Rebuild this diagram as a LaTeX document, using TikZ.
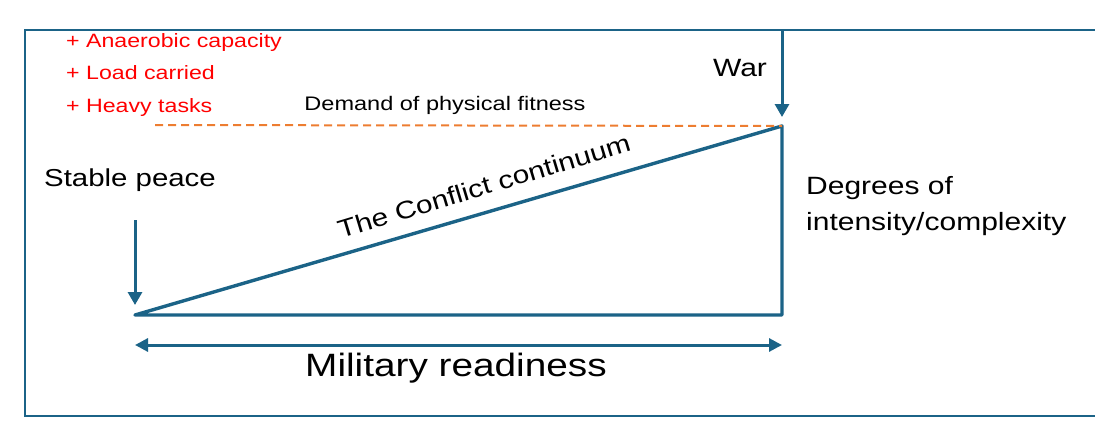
\documentclass[tikz,border=0pt]{standalone}
\usepackage{fontspec}
\setmainfont{Liberation Sans}[FakeStretch=1.2]
\usetikzlibrary{arrows.meta}
\definecolor{tealb}{HTML}{1B6387}
\definecolor{orng}{HTML}{ED7D31}
\definecolor{redt}{HTML}{FF0000}
\begin{document}
\begin{tikzpicture}[x=1pt,y=-1pt,
  frame/.style={draw=tealb,line width=1.3pt},
  tri/.style={draw=tealb,line width=3.4pt,line join=round},
  arr/.style={draw=tealb,line width=3pt,-{Triangle[length=13pt,width=14pt]}},
  darr/.style={draw=tealb,line width=3pt,{Triangle[length=13pt,width=13pt]}-{Triangle[length=13pt,width=13pt]}},
  lbl/.style={inner sep=0pt,font=\fontsize{24.5}{28}\selectfont},
  redlbl/.style={inner sep=0pt,anchor=west,text=redt,font=\fontsize{19.3}{22}\selectfont}]
\useasboundingbox (0,0) rectangle (1095,439);
\draw[frame] (1095,30) -- (25,30) -- (25,416) -- (1095,416);
% triangle
\coordinate (A) at (135,315);
\coordinate (B) at (782,126);
\coordinate (C) at (782,315);
\draw[tri] (A) -- (B) -- (C) -- cycle;
% dashed line
\coordinate (D0) at (155,125);
\draw[orng,line width=2pt,dash pattern=on 8pt off 5pt] (D0) -- (B);
% arrows
\coordinate (W0) at (782,31);
\coordinate (W1) at (782,117);
\draw[arr] (W0) -- (W1);
\coordinate (S0) at (135,220);
\coordinate (S1) at (135,305);
\draw[arr] (S0) -- (S1);
\coordinate (M0) at (135,345);
\coordinate (M1) at (782,345);
\draw[darr] (M0) -- (M1);
% labels
\node[lbl,font=\fontsize{25}{28}\selectfont] (war) at (740,68) {War};
\node[lbl] (peace) at (130,180) {Stable peace};
\node[lbl,anchor=west,align=left,font=\fontsize{25}{36}\selectfont] (deg) at (806,206) {Degrees of\\intensity/complexity};
\node[lbl,rotate=16.8,font=\fontsize{24.8}{28}\selectfont] (cont) at (484,186) {The Conflict continuum};
\node[inner sep=0pt,font=\fontsize{32.3}{36}\selectfont] (mil) at (456,368) {Military readiness};
\node[inner sep=0pt,font=\fontsize{19.6}{22}\selectfont] (dem) at (445,105) {Demand of physical fitness};
\node[redlbl] (r1) at (66,43) {+ Anaerobic capacity};
\node[redlbl] (r2) at (66,73) {+ Load carried};
\node[redlbl] (r3) at (66,108) {+ Heavy tasks};
\end{tikzpicture}
\end{document}
